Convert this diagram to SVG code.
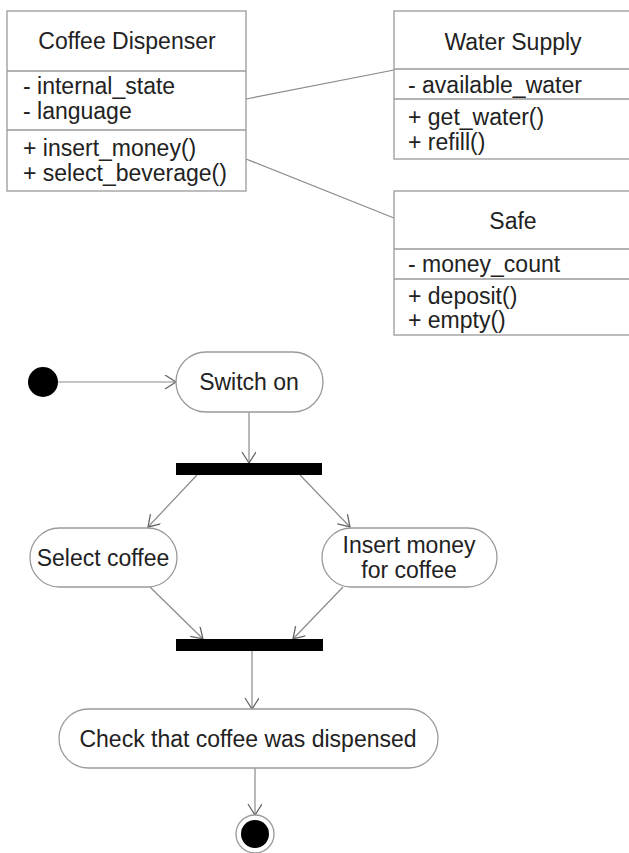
<svg xmlns="http://www.w3.org/2000/svg" width="629" height="853" viewBox="0 0 629 853">
<defs>
<style>
.box{fill:#fff;stroke:#9a9a9a;stroke-width:1.3}
.div{stroke:#9a9a9a;stroke-width:1.3}
.t{font-family:"Liberation Sans",Arial,sans-serif;font-size:23px;fill:#222}
.c{text-anchor:middle}
.edge{stroke:#8a8a8a;stroke-width:1.2;fill:none}
.act{fill:#fff;stroke:#9a9a9a;stroke-width:1.3}
.bar{fill:#000}
</style>
<marker id="open" markerWidth="14" markerHeight="16" refX="12" refY="7" orient="auto" markerUnits="userSpaceOnUse">
<path d="M1,0 L12,7 L1,14" fill="none" stroke="#666" stroke-width="1.3"/>
</marker>
</defs>
<rect width="629" height="853" fill="#fff"/>

<g id="connectors">
<line class="edge" x1="246" y1="99" x2="394" y2="70"/>
<line class="edge" x1="246" y1="159" x2="394" y2="218"/>
<line class="edge" x1="58" y1="382" x2="176" y2="382" marker-end="url(#open)"/>
<line class="edge" x1="249" y1="412" x2="249" y2="463" marker-end="url(#open)"/>
<line class="edge" x1="197" y1="475" x2="148" y2="527" marker-end="url(#open)"/>
<line class="edge" x1="300" y1="475" x2="350" y2="527" marker-end="url(#open)"/>
<line class="edge" x1="150" y1="587" x2="203" y2="639" marker-end="url(#open)"/>
<line class="edge" x1="343" y1="587" x2="293" y2="639" marker-end="url(#open)"/>
<line class="edge" x1="252" y1="651" x2="252" y2="709" marker-end="url(#open)"/>
<line class="edge" x1="255" y1="768" x2="255" y2="815" marker-end="url(#open)"/>
</g>

<g id="coffee-dispenser">
<rect class="box" x="7" y="11" width="239" height="180"/>
<line class="div" x1="7" y1="71" x2="246" y2="71"/>
<line class="div" x1="7" y1="130" x2="246" y2="130"/>
<text class="t c" x="127" y="49">Coffee Dispenser</text>
<text class="t" x="23" y="94">- internal_state</text>
<text class="t" x="23" y="119">- language</text>
<text class="t" x="23" y="156">+ insert_money()</text>
<text class="t" x="23" y="181">+ select_beverage()</text>
</g>

<g id="water-supply">
<rect class="box" x="394" y="11" width="238" height="148"/>
<line class="div" x1="394" y1="69" x2="632" y2="69"/>
<line class="div" x1="394" y1="99" x2="632" y2="99"/>
<text class="t c" x="513" y="50">Water Supply</text>
<text class="t" x="408" y="93">- available_water</text>
<text class="t" x="408" y="125">+ get_water()</text>
<text class="t" x="408" y="150">+ refill()</text>
</g>

<g id="safe">
<rect class="box" x="394" y="191" width="238" height="144"/>
<line class="div" x1="394" y1="249" x2="632" y2="249"/>
<line class="div" x1="394" y1="279" x2="632" y2="279"/>
<text class="t c" x="513" y="229">Safe</text>
<text class="t" x="408" y="272">- money_count</text>
<text class="t" x="408" y="304">+ deposit()</text>
<text class="t" x="408" y="328">+ empty()</text>
</g>

<g id="initial">
<circle cx="43" cy="382" r="15" fill="#000"/>
</g>

<g id="switch-on">
<rect class="act" x="176" y="352" width="147" height="60" rx="30" ry="30"/>
<text class="t c" x="249" y="390">Switch on</text>
</g>

<g id="fork">
<rect class="bar" x="176" y="463" width="146" height="12"/>
</g>

<g id="select-coffee">
<rect class="act" x="30" y="528" width="147" height="59" rx="29.5" ry="29.5"/>
<text class="t c" x="103" y="566">Select coffee</text>
</g>

<g id="insert-money">
<rect class="act" x="322" y="528" width="175" height="59" rx="29.5" ry="29.5"/>
<text class="t c" x="409" y="553">Insert money</text>
<text class="t c" x="409" y="578">for coffee</text>
</g>

<g id="join">
<rect class="bar" x="176" y="639" width="147" height="12"/>
</g>

<g id="check">
<rect class="act" x="59" y="709" width="379" height="59" rx="29.5" ry="29.5"/>
<text class="t c" x="248" y="747">Check that coffee was dispensed</text>
</g>

<g id="final">
<circle cx="255" cy="834" r="19" fill="#fff" stroke="#9a9a9a" stroke-width="1.3"/>
<circle cx="255" cy="834" r="14" fill="#000"/>
</g>
</svg>
